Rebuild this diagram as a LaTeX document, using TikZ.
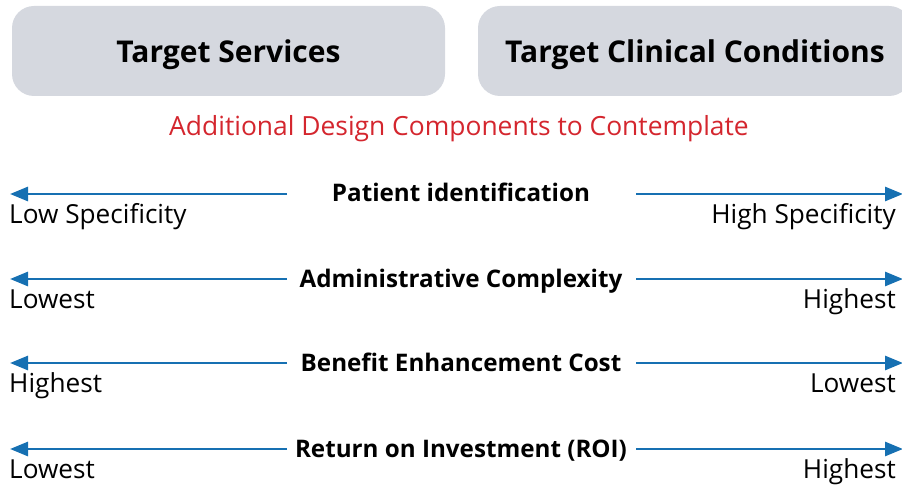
\documentclass[tikz,border=0pt]{standalone}
\usepackage{fontspec}
\setmainfont{Open Sans}
\usetikzlibrary{arrows.meta}
\definecolor{boxgray}{RGB}{213,216,223}
\definecolor{arrblue}{RGB}{22,112,178}
\definecolor{titlered}{RGB}{212,38,46}
\tikzset{
  topbox/.style={fill=boxgray, draw=none, rounded corners=22pt},
  toptext/.style={font=\fontsize{30}{36}\selectfont\bfseries, inner sep=0pt},
  arr/.style={draw=arrblue, line width=2.7pt, -{Triangle[length=18pt,width=14pt]}},
  midlab/.style={font=\fontsize{24.2}{29}\selectfont\bfseries, anchor=base, inner sep=0pt},
  sidelab/.style={font=\fontsize{26.2}{31}\selectfont, anchor=base, inner sep=0pt},
}
\begin{document}
\begin{tikzpicture}[x=1pt,y=-1pt]
\useasboundingbox (0,0) rectangle (902,489);
\begin{scope}
\clip (0,0) rectangle (902,489);
\fill[topbox] (12,6) rectangle (445,96);
\fill[topbox] (478,6) rectangle (911,96);
\end{scope}
\node[toptext, anchor=base] (ts) at (228.5,63) {Target Services};
\node[toptext, anchor=base] (tc) at (695,63) {Target Clinical Conditions};
\node[font=\fontsize{26.4}{31}\selectfont, text=titlered, inner sep=0pt, anchor=base] (sub) at (459,136) {Additional Design Components to Contemplate};

% rows
\foreach \i/\y/\lab/\lt/\rt in {
  1/194/Patient identification/Low Specificity/High Specificity,
  2/279/Administrative Complexity/Lowest/Highest,
  3/363/Benefit Enhancement Cost/Highest/Lowest,
  4/449/Return on Investment (ROI)/Lowest/Highest} {
  \coordinate (la\i) at (287,\y);
  \coordinate (le\i) at (10,\y);
  \coordinate (ra\i) at (636,\y);
  \coordinate (re\i) at (903,\y);
  \node[midlab] (m\i) at (461,\y+8) {\lab};
  \node[sidelab, anchor=base west] (l\i) at (9,\y+29.5) {\lt};
  \node[sidelab, anchor=base east] (r\i) at (896,\y+29.5) {\rt};
  \draw[arr] (la\i) -- (le\i);
  \draw[arr] (ra\i) -- (re\i);
}
\end{tikzpicture}
\end{document}
